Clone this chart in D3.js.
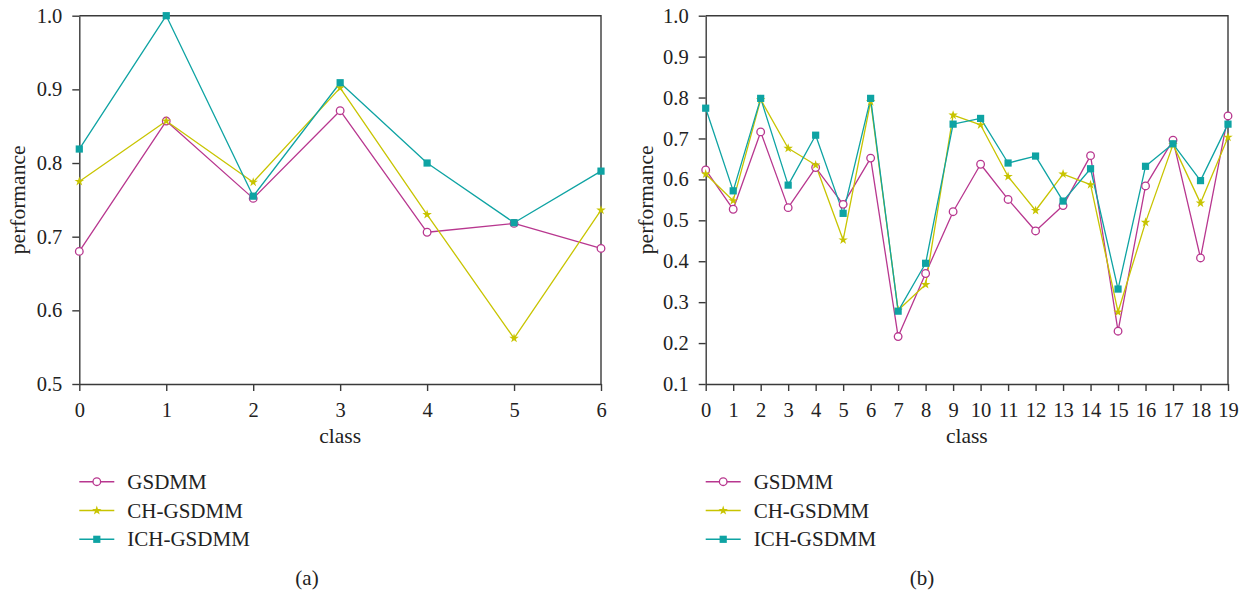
<!DOCTYPE html>
<html>
<head>
<meta charset="utf-8">
<script src="https://cdn.jsdelivr.net/npm/d3@7"></script>
<style>
  body { margin: 0; background: #fff; }
  text { font-family: "Liberation Serif", "DejaVu Serif", serif; fill: #222; }
</style>
</head>
<body>
<svg width="1245" height="595"></svg>
<script>
// panel (a): 7 classes
var classesA = [0, 1, 2, 3, 4, 5, 6];
var gsdmmA    = [0.680, 0.857, 0.752, 0.871, 0.706, 0.718, 0.684];
var chGsdmmA  = [0.775, 0.857, 0.774, 0.902, 0.730, 0.562, 0.736];
var ichGsdmmA = [0.819, 1.000, 0.755, 0.909, 0.800, 0.719, 0.789];
var yTicksA = [0.5, 0.6, 0.7, 0.8, 0.9, 1.0];

// panel (b): 20 classes
var classesB = d3.range(20);
var gsdmmB = [0.623, 0.527, 0.716, 0.531, 0.629, 0.539, 0.652, 0.216, 0.370, 0.521,
              0.637, 0.551, 0.474, 0.536, 0.658, 0.229, 0.584, 0.696, 0.408, 0.755];
var chGsdmmB = [0.613, 0.548, 0.795, 0.676, 0.635, 0.452, 0.790, 0.280, 0.343, 0.757,
                0.733, 0.607, 0.524, 0.613, 0.587, 0.276, 0.495, 0.685, 0.542, 0.703];
var ichGsdmmB = [0.774, 0.572, 0.798, 0.586, 0.708, 0.517, 0.798, 0.278, 0.395, 0.735,
                 0.749, 0.640, 0.657, 0.547, 0.626, 0.332, 0.632, 0.687, 0.597, 0.735];
var yTicksB = [0.1, 0.2, 0.3, 0.4, 0.5, 0.6, 0.7, 0.8, 0.9, 1.0];

var seriesNames = ["GSDMM", "CH-GSDMM", "ICH-GSDMM"];
var colors = ["#b8378f", "#c8c400", "#0ea3a3"];

var svg = d3.select("svg");
var axisColor = "#3a3a3a";

function marker(sel, i, cx, cy) {
  if (i == 0) {
    sel.append("circle")
      .attr("cx", cx).attr("cy", cy).attr("r", 3.8)
      .attr("fill", "#fff").attr("stroke", colors[0]).attr("stroke-width", 1.3);
  } else if (i == 1) {
    sel.append("path")
      .attr("transform", "translate(" + cx + "," + cy + ")")
      .attr("d", d3.symbol().type(d3.symbolStar).size(28)())
      .attr("fill", colors[1]);
  } else {
    sel.append("rect")
      .attr("x", cx - 3.6).attr("y", cy - 3.6)
      .attr("width", 7.2).attr("height", 7.2)
      .attr("fill", colors[2]);
  }
}

function panel(p) {
  var x = d3.scaleLinear().domain([0, p.classes.length - 1]).range([p.left, p.right]);
  var y = d3.scaleLinear().domain([p.yTicks[0], 1.0]).range([384, 15.7]);
  var g = svg.append("g");

  // frame (top / right)
  g.append("path")
    .attr("d", "M" + p.left + "," + y(1.0) + "H" + p.right + "V" + y(p.yTicks[0]))
    .attr("fill", "none").attr("stroke", axisColor).attr("stroke-width", 1.4);

  var yAxis = g.append("g")
      .attr("transform", "translate(" + p.left + ",0)")
      .call(d3.axisLeft(y).tickValues(p.yTicks).tickFormat(d3.format(".1f"))
            .tickSize(7).tickSizeOuter(0).tickPadding(10));
  var xAxis = g.append("g")
      .attr("transform", "translate(0," + y(p.yTicks[0]) + ")")
      .call(d3.axisBottom(x).tickValues(p.classes).tickFormat(d3.format("d"))
            .tickSize(7).tickSizeOuter(0).tickPadding(11));
  [xAxis, yAxis].forEach(function(a) {
    a.selectAll("path, line").attr("stroke", axisColor).attr("stroke-width", 1.4);
    a.selectAll("text").style("font-family", "Liberation Serif").style("font-size", "20.5px")
      .attr("fill", "#222");
  });

  var line = d3.line()
      .x(function(d, i) { return x(p.classes[i]); })
      .y(function(d) { return y(d); });

  p.series.forEach(function(vals, i) {
    g.append("path")
      .datum(vals)
      .attr("fill", "none")
      .attr("stroke", colors[i])
      .attr("stroke-width", 1.3)
      .attr("stroke-linejoin", "round")
      .attr("d", line);
  });
  p.series.forEach(function(vals, i) {
    vals.forEach(function(v, j) { marker(g, i, x(p.classes[j]), y(v)); });
  });

  g.append("text")
    .attr("x", (p.left + p.right) / 2).attr("y", 443)
    .attr("text-anchor", "middle").style("font-size", "21.5px")
    .text("class");
  g.append("text")
    .attr("transform", "translate(" + p.ylabelX + "," + (y(1.0) + y(p.yTicks[0])) / 2 + ")rotate(-90)")
    .attr("text-anchor", "middle").style("font-size", "21.5px")
    .text("performance");

  // legend
  var lg = g.append("g").attr("transform", "translate(" + p.left + ",0)");
  seriesNames.forEach(function(name, i) {
    var ly = 481.7 + i * 28.8;
    lg.append("line")
      .attr("x1", 0).attr("x2", 35).attr("y1", ly).attr("y2", ly)
      .attr("stroke", colors[i]).attr("stroke-width", 1.5);
    marker(lg, i, 17.5, ly);
    lg.append("text")
      .attr("x", 48).attr("y", ly + 7)
      .style("font-size", "21px")
      .text(name);
  });

  g.append("text")
    .attr("x", p.tagX).attr("y", 585)
    .attr("text-anchor", "middle").style("font-size", "21px")
    .text(p.tag);
}

panel({ classes: classesA, series: [gsdmmA, chGsdmmA, ichGsdmmA], yTicks: yTicksA,
        left: 79.3, right: 601, ylabelX: 25, tag: "(a)", tagX: 307 });
panel({ classes: classesB, series: [gsdmmB, chGsdmmB, ichGsdmmB], yTicks: yTicksB,
        left: 705.7, right: 1228, ylabelX: 653, tag: "(b)", tagX: 922 });
</script>
</body>
</html>
